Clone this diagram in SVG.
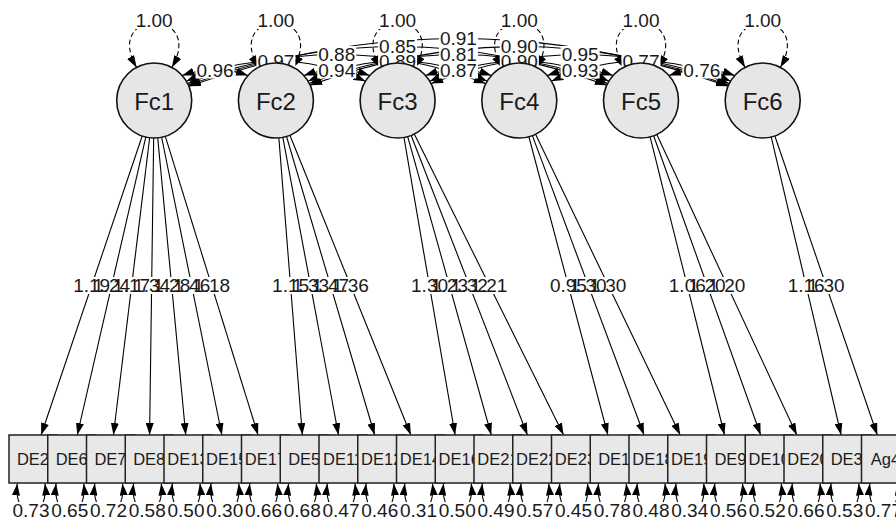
<svg xmlns="http://www.w3.org/2000/svg" width="896" height="520" viewBox="0 0 896 520">
<defs>
<marker id="ah" viewBox="0 0 12 8" refX="12" refY="4" markerWidth="12" markerHeight="8" markerUnits="userSpaceOnUse" orient="auto-start-reverse"><path d="M0,0L12,4L0,8z" fill="#000"/></marker>
<style>
.e{fill:none;stroke:#000;stroke-width:1.1}
.two{marker-start:url(#ah);marker-end:url(#ah)}
.one{marker-end:url(#ah)}
.var{stroke-dasharray:5 3}
.bg{fill:#fff}
.t{font-family:"Liberation Sans",Arial,sans-serif;font-size:19px;text-anchor:middle;fill:#1a1a1a}
.lat circle{fill:#e6e6e6;stroke:#111;stroke-width:1.6}
.lat text{font-family:"Liberation Sans",Arial,sans-serif;font-size:24px;text-anchor:middle;fill:#1a1a1a}
.man rect{fill:#e8e8e8;stroke:#222;stroke-width:1.5}
.man text{font-family:"Liberation Sans",Arial,sans-serif;font-size:16.5px;text-anchor:middle;fill:#1a1a1a}
</style>
</defs>
<rect width="896" height="520" fill="#fff"/>
<g id="connectors">
<path class="e two var" d="M136.6,67.4 C102.2,8 206.2,8 171.8,67.4"/>
<path class="e two var" d="M258.3,67.4 C223.9,8 327.9,8 293.5,67.4"/>
<path class="e two var" d="M380,67.4 C345.6,8 449.6,8 415.2,67.4"/>
<path class="e two var" d="M501.7,67.4 C467.3,8 571.3,8 536.9,67.4"/>
<path class="e two var" d="M623.4,67.4 C589,8 693,8 658.6,67.4"/>
<path class="e two var" d="M745.1,67.4 C710.7,8 814.7,8 780.3,67.4"/>
<path class="e two" d="M188.9,86.3 Q458.45,-9.3 728,86.3"/>
<path class="e two" d="M188.5,85.3 Q397.6,7.7 606.7,85.3"/>
<path class="e two" d="M310.2,85.3 Q519.3,7.7 728.4,85.3"/>
<path class="e two" d="M187.7,83.6 Q336.75,25.4 485.8,83.6"/>
<path class="e two" d="M309.4,83.6 Q458.45,25.4 607.5,83.6"/>
<path class="e two" d="M431.1,83.6 Q580.15,25.4 729.2,83.6"/>
<path class="e two" d="M186.3,81.2 Q275.9,40.8 365.5,81.2"/>
<path class="e two" d="M308,81.2 Q397.6,40.8 487.2,81.2"/>
<path class="e two" d="M429.7,81.2 Q519.3,40.8 608.9,81.2"/>
<path class="e two" d="M551.4,81.2 Q641,40.8 730.6,81.2"/>
<path class="e two" d="M182.1,75.4 Q215.05,64.6 248,75.4"/>
<path class="e two" d="M303.8,75.4 Q336.75,64.6 369.7,75.4"/>
<path class="e two" d="M425.5,75.4 Q458.45,64.6 491.4,75.4"/>
<path class="e two" d="M547.2,75.4 Q580.15,64.6 613.1,75.4"/>
<path class="e two" d="M668.9,75.4 Q701.85,64.6 734.8,75.4"/>
<path class="e one" d="M142.19,136.03 L41.11,435"/>
<path class="e one" d="M145.8,137.04 L77.27,435"/>
<path class="e one" d="M149.66,137.72 L113.43,435"/>
<path class="e one" d="M153.68,138 L149.58,435"/>
<path class="e one" d="M157.72,137.83 L185.74,435"/>
<path class="e one" d="M161.64,137.25 L221.89,435"/>
<path class="e one" d="M165.32,136.31 L258.05,435"/>
<path class="e one" d="M278.86,137.89 L302.35,435"/>
<path class="e one" d="M282.8,137.36 L338.51,435"/>
<path class="e one" d="M286.52,136.47 L374.66,435"/>
<path class="e one" d="M289.93,135.28 L410.82,435"/>
<path class="e one" d="M403.95,137.45 L455.12,435"/>
<path class="e one" d="M407.71,136.61 L491.28,435"/>
<path class="e one" d="M411.17,135.46 L527.43,435"/>
<path class="e one" d="M414.27,134.09 L563.59,435"/>
<path class="e one" d="M528.9,136.75 L607.89,435"/>
<path class="e one" d="M532.4,135.64 L644.05,435"/>
<path class="e one" d="M535.56,134.3 L680.2,435"/>
<path class="e one" d="M650.08,136.88 L724.51,435"/>
<path class="e one" d="M653.63,135.81 L760.66,435"/>
<path class="e one" d="M656.84,134.49 L796.82,435"/>
<path class="e one" d="M771.26,137.01 L841.12,435"/>
<path class="e one" d="M774.85,135.98 L877.28,435"/>
<path class="e two" d="M17.3,483.5 C13,522 49,522 45,483.5"/>
<path class="e two" d="M56.05,483.5 C51.75,522 87.75,522 83.75,483.5"/>
<path class="e two" d="M94.8,483.5 C90.5,522 126.5,522 122.5,483.5"/>
<path class="e two" d="M133.55,483.5 C129.25,522 165.25,522 161.25,483.5"/>
<path class="e two" d="M172.3,483.5 C168,522 204,522 200,483.5"/>
<path class="e two" d="M211.05,483.5 C206.75,522 242.75,522 238.75,483.5"/>
<path class="e two" d="M249.8,483.5 C245.5,522 281.5,522 277.5,483.5"/>
<path class="e two" d="M288.55,483.5 C284.25,522 320.25,522 316.25,483.5"/>
<path class="e two" d="M327.3,483.5 C323,522 359,522 355,483.5"/>
<path class="e two" d="M366.05,483.5 C361.75,522 397.75,522 393.75,483.5"/>
<path class="e two" d="M404.8,483.5 C400.5,522 436.5,522 432.5,483.5"/>
<path class="e two" d="M443.55,483.5 C439.25,522 475.25,522 471.25,483.5"/>
<path class="e two" d="M482.3,483.5 C478,522 514,522 510,483.5"/>
<path class="e two" d="M521.05,483.5 C516.75,522 552.75,522 548.75,483.5"/>
<path class="e two" d="M559.8,483.5 C555.5,522 591.5,522 587.5,483.5"/>
<path class="e two" d="M598.55,483.5 C594.25,522 630.25,522 626.25,483.5"/>
<path class="e two" d="M637.3,483.5 C633,522 669,522 665,483.5"/>
<path class="e two" d="M676.05,483.5 C671.75,522 707.75,522 703.75,483.5"/>
<path class="e two" d="M714.8,483.5 C710.5,522 746.5,522 742.5,483.5"/>
<path class="e two" d="M753.55,483.5 C749.25,522 785.25,522 781.25,483.5"/>
<path class="e two" d="M792.3,483.5 C788,522 824,522 820,483.5"/>
<path class="e two" d="M831.05,483.5 C826.75,522 862.75,522 858.75,483.5"/>
<path class="e two" d="M869.8,483.5 C865.5,522 901.5,522 897.5,483.5"/>
</g>
<g id="label-backgrounds" class="bg">
<rect x="134.7" y="11" width="39" height="18"/><rect x="256.4" y="11" width="39" height="18"/><rect x="378.1" y="11" width="39" height="18"/><rect x="499.8" y="11" width="39" height="18"/><rect x="621.5" y="11" width="39" height="18"/><rect x="743.2" y="11" width="39" height="18"/>
<rect x="438.95" y="30" width="39" height="17"/>
<rect x="378.1" y="38" width="39" height="17"/><rect x="499.8" y="38" width="39" height="17"/>
<rect x="317.25" y="46" width="39" height="17"/><rect x="438.95" y="46" width="39" height="17"/><rect x="560.65" y="46" width="39" height="17"/>
<rect x="256.4" y="52.5" width="39" height="17"/><rect x="378.1" y="52.5" width="39" height="17"/><rect x="499.8" y="52.5" width="39" height="17"/><rect x="621.5" y="52.5" width="39" height="17"/>
<rect x="195.55" y="61.5" width="39" height="17"/><rect x="317.25" y="61.5" width="39" height="17"/><rect x="438.95" y="61.5" width="39" height="17"/><rect x="560.65" y="61.5" width="39" height="17"/><rect x="682.35" y="61.5" width="39" height="17"/>
<rect x="72.6" y="277" width="38" height="17"/><rect x="92.5" y="277" width="38" height="17"/><rect x="112.5" y="277" width="38" height="17"/><rect x="132.6" y="277" width="38" height="17"/><rect x="152.7" y="277" width="38" height="17"/><rect x="172.8" y="277" width="38" height="17"/><rect x="192.7" y="277" width="38" height="17"/>
<rect x="271.6" y="277" width="38" height="17"/><rect x="291.7" y="277" width="38" height="17"/><rect x="311.6" y="277" width="38" height="17"/><rect x="331.4" y="277" width="38" height="17"/>
<rect x="410.5" y="277" width="38" height="17"/><rect x="430.5" y="277" width="38" height="17"/><rect x="450.3" y="277" width="38" height="17"/><rect x="469.9" y="277" width="38" height="17"/>
<rect x="549.4" y="277" width="38" height="17"/><rect x="569.2" y="277" width="38" height="17"/><rect x="588.9" y="277" width="38" height="17"/>
<rect x="668.3" y="277" width="38" height="17"/><rect x="688.1" y="277" width="38" height="17"/><rect x="707.8" y="277" width="38" height="17"/>
<rect x="787.2" y="277" width="38" height="17"/><rect x="807.1" y="277" width="38" height="17"/>
<rect x="0" y="502" width="896" height="18"/>
</g>
<g id="labels" class="t">
<text x="154.2" y="26.5">1.00</text><text x="275.9" y="26.5">1.00</text><text x="397.6" y="26.5">1.00</text><text x="519.3" y="26.5">1.00</text><text x="641" y="26.5">1.00</text><text x="762.7" y="26.5">1.00</text>
<text x="458.45" y="45">0.91</text>
<text x="397.6" y="53">0.85</text><text x="519.3" y="53">0.90</text>
<text x="336.75" y="61">0.88</text><text x="458.45" y="61">0.81</text><text x="580.15" y="61">0.95</text>
<text x="275.9" y="67.5">0.97</text><text x="397.6" y="67.5">0.89</text><text x="519.3" y="67.5">0.90</text><text x="641" y="67.5">0.77</text>
<text x="215.05" y="76.5">0.96</text><text x="336.75" y="76.5">0.94</text><text x="458.45" y="76.5">0.87</text><text x="580.15" y="76.5">0.93</text><text x="701.85" y="76.5">0.76</text>
<text x="91.65" y="292">1.19</text><text x="111.54" y="292">1.24</text><text x="131.55" y="292">1.17</text><text x="151.63" y="292">1.34</text><text x="171.73" y="292">1.28</text><text x="191.77" y="292">1.46</text><text x="211.69" y="292">1.18</text>
<text x="290.6" y="292">1.15</text><text x="310.66" y="292">1.33</text><text x="330.59" y="292">1.47</text><text x="350.38" y="292">1.36</text>
<text x="429.54" y="292">1.30</text><text x="449.5" y="292">1.23</text><text x="469.3" y="292">1.32</text><text x="488.93" y="292">1.21</text>
<text x="568.4" y="292">0.95</text><text x="588.2" y="292">1.30</text><text x="607.9" y="292">1.30</text>
<text x="687.3" y="292">1.06</text><text x="707.1" y="292">1.20</text><text x="726.8" y="292">1.20</text>
<text x="806.2" y="292">1.16</text><text x="826.1" y="292">1.30</text>
<text x="31" y="517">0.73</text><text x="69.75" y="517">0.65</text><text x="108.5" y="517">0.72</text><text x="147.25" y="517">0.58</text><text x="186" y="517">0.50</text><text x="224.75" y="517">0.30</text><text x="263.5" y="517">0.66</text><text x="302.25" y="517">0.68</text><text x="341" y="517">0.47</text><text x="379.75" y="517">0.46</text><text x="418.5" y="517">0.31</text><text x="457.25" y="517">0.50</text><text x="496" y="517">0.49</text><text x="534.75" y="517">0.57</text><text x="573.5" y="517">0.45</text><text x="612.25" y="517">0.78</text><text x="651" y="517">0.48</text><text x="689.75" y="517">0.34</text><text x="728.5" y="517">0.56</text><text x="767.25" y="517">0.52</text><text x="806" y="517">0.66</text><text x="844.75" y="517">0.53</text><text x="883.5" y="517">0.77</text>
</g>
<g class="lat">
<g id="Fc1"><circle cx="154.2" cy="100.5" r="37.5"/><text x="154.2" y="109.5">Fc1</text></g>
<g id="Fc2"><circle cx="275.9" cy="100.5" r="37.5"/><text x="275.9" y="109.5">Fc2</text></g>
<g id="Fc3"><circle cx="397.6" cy="100.5" r="37.5"/><text x="397.6" y="109.5">Fc3</text></g>
<g id="Fc4"><circle cx="519.3" cy="100.5" r="37.5"/><text x="519.3" y="109.5">Fc4</text></g>
<g id="Fc5"><circle cx="641" cy="100.5" r="37.5"/><text x="641" y="109.5">Fc5</text></g>
<g id="Fc6"><circle cx="762.7" cy="100.5" r="37.5"/><text x="762.7" y="109.5">Fc6</text></g>
</g>
<g class="man">
<g id="DE2"><rect x="9" y="435" width="48" height="48"/><text x="33" y="465">DE2</text></g>
<g id="DE6"><rect x="47.75" y="435" width="48" height="48"/><text x="71.75" y="465">DE6</text></g>
<g id="DE7"><rect x="86.5" y="435" width="48" height="48"/><text x="110.5" y="465">DE7</text></g>
<g id="DE8"><rect x="125.25" y="435" width="48" height="48"/><text x="149.25" y="465">DE8</text></g>
<g id="DE13"><rect x="164" y="435" width="48" height="48"/><text x="188" y="465">DE13</text></g>
<g id="DE15"><rect x="202.75" y="435" width="48" height="48"/><text x="226.75" y="465">DE15</text></g>
<g id="DE17"><rect x="241.5" y="435" width="48" height="48"/><text x="265.5" y="465">DE17</text></g>
<g id="DE5"><rect x="280.25" y="435" width="48" height="48"/><text x="304.25" y="465">DE5</text></g>
<g id="DE11"><rect x="319" y="435" width="48" height="48"/><text x="343" y="465">DE11</text></g>
<g id="DE12"><rect x="357.75" y="435" width="48" height="48"/><text x="381.75" y="465">DE12</text></g>
<g id="DE14"><rect x="396.5" y="435" width="48" height="48"/><text x="420.5" y="465">DE14</text></g>
<g id="DE16"><rect x="435.25" y="435" width="48" height="48"/><text x="459.25" y="465">DE16</text></g>
<g id="DE21"><rect x="474" y="435" width="48" height="48"/><text x="498" y="465">DE21</text></g>
<g id="DE22"><rect x="512.75" y="435" width="48" height="48"/><text x="536.75" y="465">DE22</text></g>
<g id="DE23"><rect x="551.5" y="435" width="48" height="48"/><text x="575.5" y="465">DE23</text></g>
<g id="DE1"><rect x="590.25" y="435" width="48" height="48"/><text x="614.25" y="465">DE1</text></g>
<g id="DE18"><rect x="629" y="435" width="48" height="48"/><text x="653" y="465">DE18</text></g>
<g id="DE19"><rect x="667.75" y="435" width="48" height="48"/><text x="691.75" y="465">DE19</text></g>
<g id="DE9"><rect x="706.5" y="435" width="48" height="48"/><text x="730.5" y="465">DE9</text></g>
<g id="DE10"><rect x="745.25" y="435" width="48" height="48"/><text x="769.25" y="465">DE10</text></g>
<g id="DE20"><rect x="784" y="435" width="48" height="48"/><text x="808" y="465">DE20</text></g>
<g id="DE3"><rect x="822.75" y="435" width="48" height="48"/><text x="846.75" y="465">DE3</text></g>
<g id="Ag4"><rect x="861.5" y="435" width="48" height="48"/><text x="885.5" y="465">Ag4</text></g>
</g>
</svg>
